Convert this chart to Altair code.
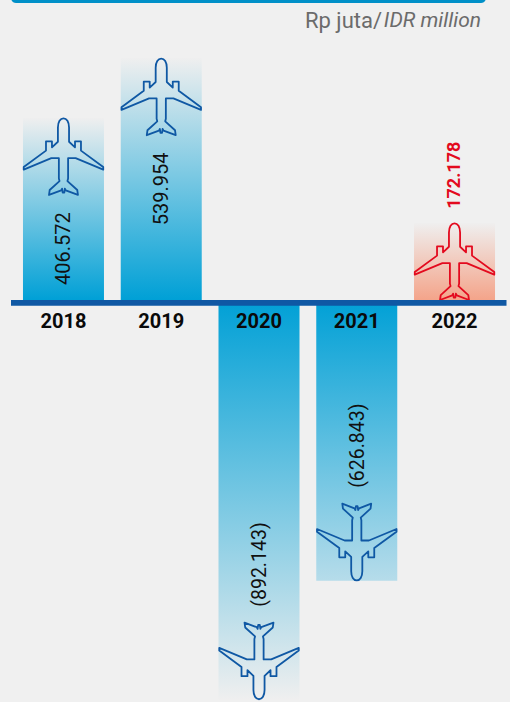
import altair as alt
import pandas as pd

years = ["2018", "2019", "2020", "2021", "2022"]
values = [406.572, 539.954, -892.143, -626.843, 172.178]
labels = ["406.572", "539.954", "(892.143)", "(626.843)", "172.178"]
unit_a = "Rp juta/"
unit_b = "IDR million"

BG = "#f0f0f0"
NAVY = "#0f58a4"
RED = "#e30a1e"
PLANE = ("M0,-0.97 C0.08,-0.97 0.14,-0.88 0.14,-0.74 L0.14,-0.38 L0.29,-0.24 L0.29,-0.39 L0.44,-0.39 L0.44,-0.157 "
         "L1,0.256 L1,0.322 L0.306,0.033 L0.116,0.033 L0.116,0.545 L0.1,0.61 L0.347,0.835 L0.364,0.959 "
         "L0.058,0.843 L0.035,0.8 L0.02,0.9 L-0.02,0.9 L-0.035,0.8 L-0.058,0.843 L-0.364,0.959 L-0.347,0.835 "
         "L-0.1,0.61 L-0.116,0.545 L-0.116,0.033 L-0.306,0.033 L-1,0.322 L-1,0.256 L-0.44,-0.157 L-0.44,-0.39 "
         "L-0.29,-0.39 L-0.29,-0.24 L-0.14,-0.38 L-0.14,-0.74 C-0.14,-0.88 -0.08,-0.97 0,-0.97 Z")

df = pd.DataFrame({"year": years, "value": values, "label": labels})

x = alt.X("year:N", axis=None, sort=years,
          scale=alt.Scale(type="band", range=[14.6, 503.4], paddingInner=0.171, paddingOuter=0.0855))
yscale = alt.Scale(domain=[-897.3, 669.6], range=[702, 0], nice=False, zero=False)
y = alt.Y("value:Q", axis=None, scale=yscale)


def grad(base, end, up):
    return alt.LinearGradient(
        gradient="linear",
        stops=[alt.GradientStop(color=base, offset=0), alt.GradientStop(color=end, offset=1)],
        x1=0, x2=0, y1=1 if up else 0, y2=0 if up else 1,
    )


fills = {
    "2018": grad("#00a0d6", "#efefef", True),
    "2019": grad("#00a0d6", "#efefef", True),
    "2020": grad("#00a0d6", "#efefef", False),
    "2021": grad("#00a0d6", "#b6dcea", False),
    "2022": grad("#f4a48a", "#efefef", True),
}

layers = []
for yr in years:
    sub = df[df.year == yr]
    layers.append(alt.Chart(sub).mark_bar(fill=fills[yr], stroke=None, size=81).encode(
        x=x, y=y, y2=alt.Y2(datum=0)))

pos = df[df.year.isin(["2018", "2019"])]
neg = df[df.value < 0]
red = df[df.year == "2022"]

for sub, col, ang, off in [(pos, NAVY, 0, 39), (neg, NAVY, 180, -39), (red, RED, 0, 39)]:
    layers.append(alt.Chart(sub).mark_point(
        shape=PLANE, size=6320, filled=False, stroke=col, strokeWidth=1.8, strokeJoin="round",
        fillOpacity=0, opacity=1, angle=ang, yOffset=off).encode(x=x, y=y))

FONT = "Roboto"
layers.append(alt.Chart(pos).mark_text(font=FONT, fontSize=20, angle=270, align="right", baseline="middle",
                                       yOffset=94.5, xOffset=1, color="#111111").encode(x=x, y=y, text="label:N"))
layers.append(alt.Chart(neg).mark_text(font=FONT, fontSize=19.5, angle=270, align="left", baseline="middle",
                                       yOffset=-93, xOffset=1, color="#111111").encode(x=x, y=y, text="label:N"))
layers.append(alt.Chart(red).mark_text(font=FONT, fontSize=18, fontWeight="bold", angle=270, align="left",
                                       baseline="middle", yOffset=-14, color=RED).encode(x=x, y=y, text="label:N"))

layers.append(alt.Chart(pd.DataFrame({"z": [0]})).mark_rect(color=NAVY).encode(
    x=alt.value(11), x2=alt.value(506.5), y=alt.value(300), y2=alt.value(305.7)))
layers.append(alt.Chart(pd.DataFrame({"z": [0]})).mark_rect(color="#0090c8", cornerRadius=5).encode(
    x=alt.value(11), x2=alt.value(486), y=alt.value(-8), y2=alt.value(3)))

layers.append(alt.Chart(df).mark_text(font=FONT, fontSize=20, fontWeight="bold", color="#0a0a0a",
                                      baseline="middle").encode(x=x, y=alt.value(322), text="year:N"))

layers.append(alt.Chart(pd.DataFrame({"t": [unit_a]})).mark_text(
    font=FONT, fontSize=22, align="right", baseline="middle", color="#6b6b6b").encode(
    x=alt.value(382), y=alt.value(21), text="t:N"))
layers.append(alt.Chart(pd.DataFrame({"t": [unit_b]})).mark_text(
    font=FONT, fontSize=21, fontStyle="italic", align="right", baseline="middle", color="#6b6b6b").encode(
    x=alt.value(481), y=alt.value(21), text="t:N"))

chart = alt.layer(*layers).properties(
    width=510, height=702, background=BG, padding=0,
    autosize=alt.AutoSizeParams(type="none"),
).configure_view(stroke=None)

chart.save("out.html", embed_options={"renderer": "svg", "actions": False,
                                      "defaultStyle": "body{margin:0;background:#f0f0f0}"})
